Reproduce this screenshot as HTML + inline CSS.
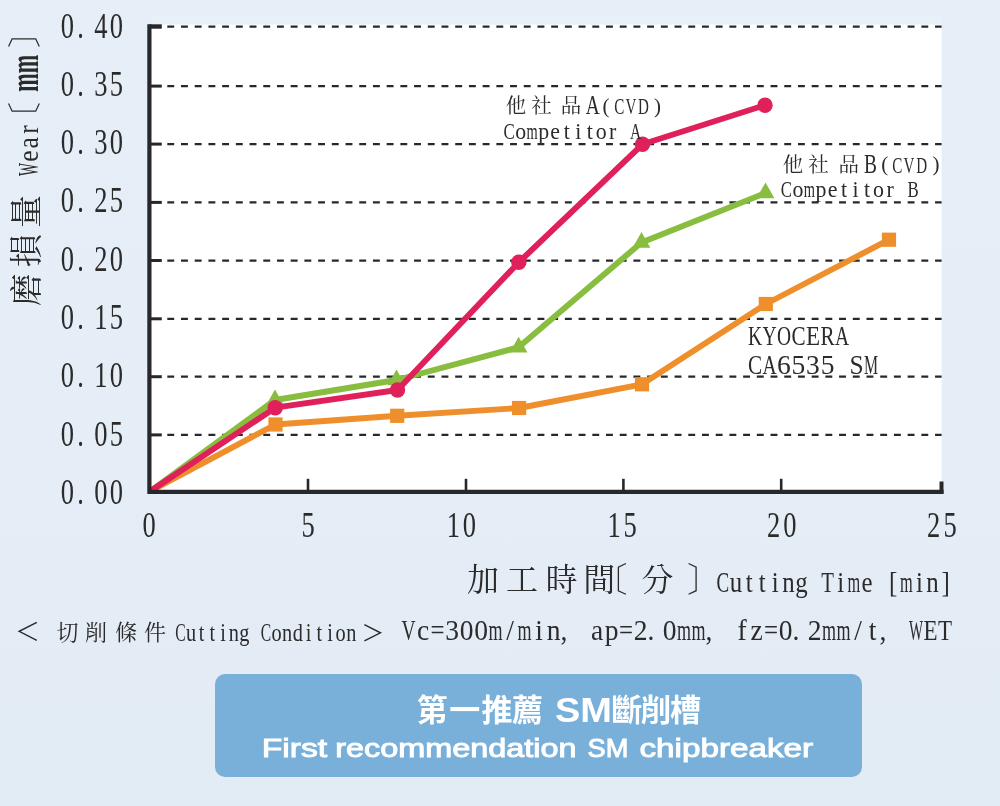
<!DOCTYPE html>
<html lang="zh-Hant"><head><meta charset="utf-8"><title>Wear vs Cutting Time - CA6535 SM</title>
<style>html,body{margin:0;padding:0;background:#e5edf6;}body{width:1000px;height:806px;overflow:hidden;font-family:"Liberation Serif",serif;}svg{display:block}text{font-family:"Liberation Serif",serif;fill:#2b2b2b}.sb text,.sb{font-family:"Liberation Sans",sans-serif}</style>
</head><body>
<svg width="1000" height="806" viewBox="0 0 1000 806" style="will-change:transform">
<defs><linearGradient id="bg" x1="0" y1="0" x2="0" y2="1"><stop offset="0" stop-color="#e6eef7"/><stop offset="0.6" stop-color="#e5edf6"/><stop offset="1" stop-color="#e2ecf4"/></linearGradient></defs>
<rect width="1000" height="806" fill="url(#bg)"/>
<rect x="152" y="17" width="790" height="8" fill="#eaf1f8" opacity="0.6"/>
<rect x="149.4" y="24.6" width="792.2" height="467.2" fill="#fff"/>
<g stroke="#27282c" stroke-width="2.25" stroke-dasharray="6.9 6.81" fill="none">
<path d="M167.3 26.6H941.6"/>
<path d="M167.3 86.1H941.6"/>
<path d="M167.3 144.1H941.6"/>
<path d="M167.3 202.4H941.6"/>
<path d="M167.3 260.5H941.6"/>
<path d="M167.3 318.8H941.6"/>
<path d="M167.3 376.7H941.6"/>
<path d="M167.3 434.9H941.6"/>
</g>
<g fill="none" stroke-width="5.9" stroke-linejoin="round" stroke-linecap="butt">
<path d="M150.3 491.2L275.5 424.5L397.2 415.8L519.1 408.0L642.0 384.3L765.8 304.0L889.0 239.7" stroke="#ee8f2b"/>
<path d="M150.3 491.2L275.0 400.0L396.5 380.0L518.6 347.3L641.5 242.5L765.5 193.0" stroke="#88bd3f"/>
</g>
<g fill="#ee8f2b">
<rect x="268.4" y="417.4" width="14.2" height="14.2"/>
<rect x="390.1" y="408.7" width="14.2" height="14.2"/>
<rect x="512.0" y="400.9" width="14.2" height="14.2"/>
<rect x="634.9" y="377.2" width="14.2" height="14.2"/>
<rect x="758.7" y="296.9" width="14.2" height="14.2"/>
<rect x="881.9" y="232.6" width="14.2" height="14.2"/>
</g>
<g fill="#88bd3f">
<path d="M275.0 389.4L283.9 405.3H266.1Z"/>
<path d="M396.5 369.4L405.4 385.3H387.6Z"/>
<path d="M518.6 336.7L527.5 352.6H509.7Z"/>
<path d="M641.5 231.9L650.4 247.8H632.6Z"/>
<path d="M765.5 182.4L774.4 198.3H756.6Z"/>
</g>
<path d="M150.3 491.2L275.2 407.7L397.5 390.0L518.8 262.3L642.5 144.3L765.0 105.2" stroke="#df205b" fill="none" stroke-width="5.9" stroke-linejoin="round"/>
<g fill="#df205b">
<circle cx="275.2" cy="407.7" r="7.7"/>
<circle cx="397.5" cy="390" r="7.7"/>
<circle cx="518.8" cy="262.3" r="7.7"/>
<circle cx="642.5" cy="144.3" r="7.7"/>
<circle cx="765" cy="105.2" r="7.7"/>
</g>
<g stroke="#27282c" fill="none">
<path d="M149.4 26.5H161.8" stroke-width="4.4"/>
<path d="M149.4 86.1H161.8" stroke-width="3"/>
<path d="M149.4 144.1H161.8" stroke-width="3"/>
<path d="M149.4 202.4H161.8" stroke-width="3"/>
<path d="M149.4 260.5H161.8" stroke-width="3"/>
<path d="M149.4 318.8H161.8" stroke-width="3"/>
<path d="M149.4 376.7H161.8" stroke-width="3"/>
<path d="M149.4 434.9H161.8" stroke-width="3"/>
<path d="M308 478.8V491.8" stroke-width="2.6"/>
<path d="M466 478.8V491.8" stroke-width="2.6"/>
<path d="M623.4 478.8V491.8" stroke-width="2.6"/>
<path d="M781.2 478.8V491.8" stroke-width="2.6"/>
<path d="M941.5 481.5V493.8" stroke-width="4"/>
<path d="M149.4 24.3V491.8H943.5" stroke-width="4.2" stroke-linejoin="miter"/>
</g>
<g>
<text transform="translate(0 37.6) scale(0.76 1)" x="88.7 106.1 132.8 153.2" y="0" font-size="34.9" text-anchor="middle">0.40</text>
<text transform="translate(0 95.9) scale(0.76 1)" x="88.7 106.1 132.8 153.2" y="0" font-size="34.9" text-anchor="middle">0.35</text>
<text transform="translate(0 154.1) scale(0.76 1)" x="88.7 106.1 132.8 153.2" y="0" font-size="34.9" text-anchor="middle">0.30</text>
<text transform="translate(0 212.4) scale(0.76 1)" x="88.7 106.1 132.8 153.2" y="0" font-size="34.9" text-anchor="middle">0.25</text>
<text transform="translate(0 270.7) scale(0.76 1)" x="88.7 106.1 132.8 153.2" y="0" font-size="34.9" text-anchor="middle">0.20</text>
<text transform="translate(0 329.0) scale(0.76 1)" x="88.7 106.1 132.8 153.2" y="0" font-size="34.9" text-anchor="middle">0.15</text>
<text transform="translate(0 387.2) scale(0.76 1)" x="88.7 106.1 132.8 153.2" y="0" font-size="34.9" text-anchor="middle">0.10</text>
<text transform="translate(0 445.5) scale(0.76 1)" x="88.7 106.1 132.8 153.2" y="0" font-size="34.9" text-anchor="middle">0.05</text>
<text transform="translate(0 503.8) scale(0.76 1)" x="88.7 106.1 132.8 153.2" y="0" font-size="34.9" text-anchor="middle">0.00</text>
</g>
<g>
<text transform="translate(0 536.8) scale(0.75 1)" x="198.9" y="0" font-size="35.3" text-anchor="middle">0</text>
<text transform="translate(0 536.8) scale(0.75 1)" x="410.7" y="0" font-size="35.3" text-anchor="middle">5</text>
<text transform="translate(0 536.8) scale(0.75 1)" x="604.4 625.7" y="0" font-size="35.3" text-anchor="middle">10</text>
<text transform="translate(0 536.8) scale(0.75 1)" x="818.9 840.0" y="0" font-size="35.3" text-anchor="middle">15</text>
<text transform="translate(0 536.8) scale(0.75 1)" x="1031.6 1053.3" y="0" font-size="35.3" text-anchor="middle">20</text>
<text transform="translate(0 536.8) scale(0.75 1)" x="1244.9 1266.7" y="0" font-size="35.3" text-anchor="middle">25</text>
</g>
<g transform="translate(0 320) rotate(-90)">
<text x="30.5 69.5 108.5" y="38" font-size="33" text-anchor="middle" style="font-family:'Liberation Serif','Noto Serif CJK SC',serif">磨損量</text>
<text x="218" y="37" font-size="34" text-anchor="end" style="font-family:'Liberation Serif','Noto Serif CJK SC',serif">〔</text>
<text x="272" y="37" font-size="34" text-anchor="start" style="font-family:'Liberation Serif','Noto Serif CJK SC',serif">〕</text>
<text transform="translate(0 38) scale(0.849 1)" font-size="30"><tspan x="169.5" textLength="15.3" lengthAdjust="spacingAndGlyphs">W</tspan><tspan x="186.3 202.1 219.5">ear</tspan></text>
<text transform="translate(228.3 38) scale(0.56 1)" x="0" y="0" font-size="42.5" font-weight="bold" textLength="65.9" lengthAdjust="spacingAndGlyphs">mm</text>
</g>
<text x="516 541.5 571" y="113" font-size="20.5" text-anchor="middle" style="font-family:'Liberation Serif','Noto Serif CJK SC',serif">他社品</text>
<text x="606" y="112.5" font-size="21" text-anchor="middle">(</text>
<text x="657.5" y="112.5" font-size="21" text-anchor="middle">)</text>
<text x="793 818.6 848.7" y="171.5" font-size="20.5" text-anchor="middle" style="font-family:'Liberation Serif','Noto Serif CJK SC',serif">他社品</text>
<text x="884.7" y="171" font-size="21" text-anchor="middle">(</text>
<text x="936" y="171" font-size="21" text-anchor="middle">)</text>
<text transform="translate(0 114.3) scale(0.72 1)" x="823.1" y="0" font-size="26.9" text-anchor="middle">A</text>
<text transform="translate(0 114.3) scale(0.66 1)" x="938.5 956.1 975.0" y="0" font-size="22.9" text-anchor="middle">CVD</text>
<text transform="translate(0 138.5) scale(0.91 1)" font-size="24"><tspan x="553.4" textLength="12.3" lengthAdjust="spacingAndGlyphs">C</tspan><tspan x="566.2">o</tspan><tspan x="578.7" textLength="12.3" lengthAdjust="spacingAndGlyphs">m</tspan><tspan x="591.5 604.8 619.4 632.1 644.7 654.7 669.3">petitor</tspan> <tspan x="692.4" textLength="12.3" lengthAdjust="spacingAndGlyphs">A</tspan></text>
<text transform="translate(0 172.9) scale(0.72 1)" x="1208.9" y="0" font-size="26.9" text-anchor="middle">B</text>
<text transform="translate(0 172.9) scale(0.66 1)" x="1359.5 1377.1 1396.4" y="0" font-size="22.9" text-anchor="middle">CVD</text>
<text transform="translate(0 197.2) scale(0.912 1)" font-size="24"><tspan x="856.2" textLength="12.3" lengthAdjust="spacingAndGlyphs">C</tspan><tspan x="868.9">o</tspan><tspan x="881.4" textLength="12.3" lengthAdjust="spacingAndGlyphs">m</tspan><tspan x="894.2 907.5 922.1 934.7 947.4 957.3 972.0">petitor</tspan> <tspan x="995.1" textLength="12.3" lengthAdjust="spacingAndGlyphs">B</tspan></text>
<text transform="translate(0 345) scale(1.0 1)" font-size="27.5"><tspan x="747.9" textLength="14.1" lengthAdjust="spacingAndGlyphs">K</tspan><tspan x="762.4" textLength="14.1" lengthAdjust="spacingAndGlyphs">Y</tspan><tspan x="776.9" textLength="14.1" lengthAdjust="spacingAndGlyphs">O</tspan><tspan x="791.4" textLength="14.1" lengthAdjust="spacingAndGlyphs">C</tspan><tspan x="806.0" textLength="14.1" lengthAdjust="spacingAndGlyphs">E</tspan><tspan x="820.5" textLength="14.1" lengthAdjust="spacingAndGlyphs">R</tspan><tspan x="835.0" textLength="14.1" lengthAdjust="spacingAndGlyphs">A</tspan></text>
<text transform="translate(0 373.8) scale(1.0 1)" font-size="27.5"><tspan x="747.9" textLength="14.1" lengthAdjust="spacingAndGlyphs">C</tspan><tspan x="762.4" textLength="14.1" lengthAdjust="spacingAndGlyphs">A</tspan><tspan x="777.1 791.6 806.1 820.7">6535</tspan> <tspan x="849.6" textLength="14.1" lengthAdjust="spacingAndGlyphs">S</tspan><tspan x="864.1" textLength="14.1" lengthAdjust="spacingAndGlyphs">M</tspan></text>
<text x="483 522 561.6 599.3" y="591" font-size="32" text-anchor="middle" style="font-family:'Liberation Serif','Noto Serif CJK SC',serif">加工時間</text>
<text x="627.5" y="591.5" font-size="34" text-anchor="end" style="font-family:'Liberation Serif','Noto Serif CJK SC',serif">〔</text>
<text x="657.2" y="591" font-size="32" text-anchor="middle" style="font-family:'Liberation Serif','Noto Serif CJK SC',serif">分</text>
<text x="687" y="591.5" font-size="34" text-anchor="start" style="font-family:'Liberation Serif','Noto Serif CJK SC',serif">〕</text>
<text transform="translate(0 591.5) scale(0.835 1)" font-size="29.8"><tspan x="858.1" textLength="15.2" lengthAdjust="spacingAndGlyphs">C</tspan><tspan x="874.0 893.0 908.7 924.4 936.7 952.4">utting</tspan> <tspan x="983.6" textLength="15.2" lengthAdjust="spacingAndGlyphs">T</tspan><tspan x="1002.8">i</tspan><tspan x="1015.0" textLength="15.2" lengthAdjust="spacingAndGlyphs">m</tspan><tspan x="1031.7">e</tspan> <tspan x="1064.7">[</tspan><tspan x="1077.8" textLength="15.2" lengthAdjust="spacingAndGlyphs">m</tspan><tspan x="1096.9 1109.3 1127.5">in]</tspan></text>
<text x="67.5 96 126 155" y="640" font-size="22" text-anchor="middle" style="font-family:'Liberation Serif','Noto Serif CJK SC',serif">切削條件</text>
<g fill="none" stroke="#2b2b2b" stroke-width="1.5"><path d="M36.8 622.3L19.2 631.3L36.8 640.3"/><path d="M364.4 624.7L380.4 632.8L364.4 640.9"/></g>
<text transform="translate(0 640.6) scale(0.832 1)" font-size="24.4"><tspan x="210.5" textLength="12.5" lengthAdjust="spacingAndGlyphs">C</tspan><tspan x="223.5 239.0 251.9 264.7 274.8 287.7">utting</tspan> <tspan x="313.3" textLength="12.5" lengthAdjust="spacingAndGlyphs">C</tspan><tspan x="326.2 339.1 351.9 367.5 380.3 393.2 403.3 416.2">ondition</tspan></text>
<text transform="translate(0 640.4) scale(0.95 1)" font-size="29"><tspan x="422.7" textLength="14.8" lengthAdjust="spacingAndGlyphs">V</tspan><tspan x="438.9">c</tspan><tspan x="453.2" textLength="14.8" lengthAdjust="spacingAndGlyphs">=</tspan><tspan x="468.6 483.9 499.2">300</tspan><tspan x="514.3" textLength="14.8" lengthAdjust="spacingAndGlyphs">m</tspan><tspan x="532.9">/</tspan><tspan x="544.8" textLength="14.8" lengthAdjust="spacingAndGlyphs">m</tspan><tspan x="563.4 575.5 590.1">in,</tspan> <tspan x="622.1 636.5">ap</tspan><tspan x="651.6" textLength="14.8" lengthAdjust="spacingAndGlyphs">=</tspan><tspan x="667.1 681.7 697.6">2.0</tspan><tspan x="712.7" textLength="14.8" lengthAdjust="spacingAndGlyphs">m</tspan><tspan x="728.0" textLength="14.8" lengthAdjust="spacingAndGlyphs">m</tspan><tspan x="742.7">,</tspan> <tspan x="776.3 790.0">fz</tspan><tspan x="804.3" textLength="14.8" lengthAdjust="spacingAndGlyphs">=</tspan><tspan x="819.7 834.3 850.2">0.2</tspan><tspan x="865.3" textLength="14.8" lengthAdjust="spacingAndGlyphs">m</tspan><tspan x="880.6" textLength="14.8" lengthAdjust="spacingAndGlyphs">m</tspan><tspan x="899.2 914.5 925.9">/t,</tspan> <tspan x="956.9" textLength="14.8" lengthAdjust="spacingAndGlyphs">W</tspan><tspan x="972.2" textLength="14.8" lengthAdjust="spacingAndGlyphs">E</tspan><tspan x="987.4" textLength="14.8" lengthAdjust="spacingAndGlyphs">T</tspan></text>
<rect x="215" y="674" width="647" height="103" rx="10" ry="10" fill="#79b0da"/>
<text x="432.3 464.8 497 527.5" y="720.5" font-size="31" font-weight="bold" text-anchor="middle" style="fill:#fff;font-family:'Liberation Sans','Noto Sans CJK TC',sans-serif">第一推薦</text>
<text x="626.7 656 685.6" y="720.5" font-size="31" font-weight="bold" text-anchor="middle" style="fill:#fff;font-family:'Liberation Sans','Noto Sans CJK TC',sans-serif">斷削槽</text>
<g class="sb" font-weight="bold" style="font-family:'Liberation Sans',sans-serif">
<text x="555" y="721.9" font-size="34.6" textLength="57" lengthAdjust="spacingAndGlyphs" style="fill:#fff;font-family:'Liberation Sans',sans-serif">SM</text>
<text y="756.6" font-size="26.4" font-weight="normal" style="fill:#fff;stroke:#fff;stroke-width:0.95;font-family:'Liberation Sans',sans-serif"><tspan x="261.8" textLength="65.4" lengthAdjust="spacingAndGlyphs">First</tspan> <tspan x="335.3" textLength="241.3" lengthAdjust="spacingAndGlyphs">recommendation</tspan> <tspan x="587.6" textLength="40.8" lengthAdjust="spacingAndGlyphs">SM</tspan> <tspan x="639.4" textLength="173.8" lengthAdjust="spacingAndGlyphs">chipbreaker</tspan></text>
</g>
</svg></body></html>
